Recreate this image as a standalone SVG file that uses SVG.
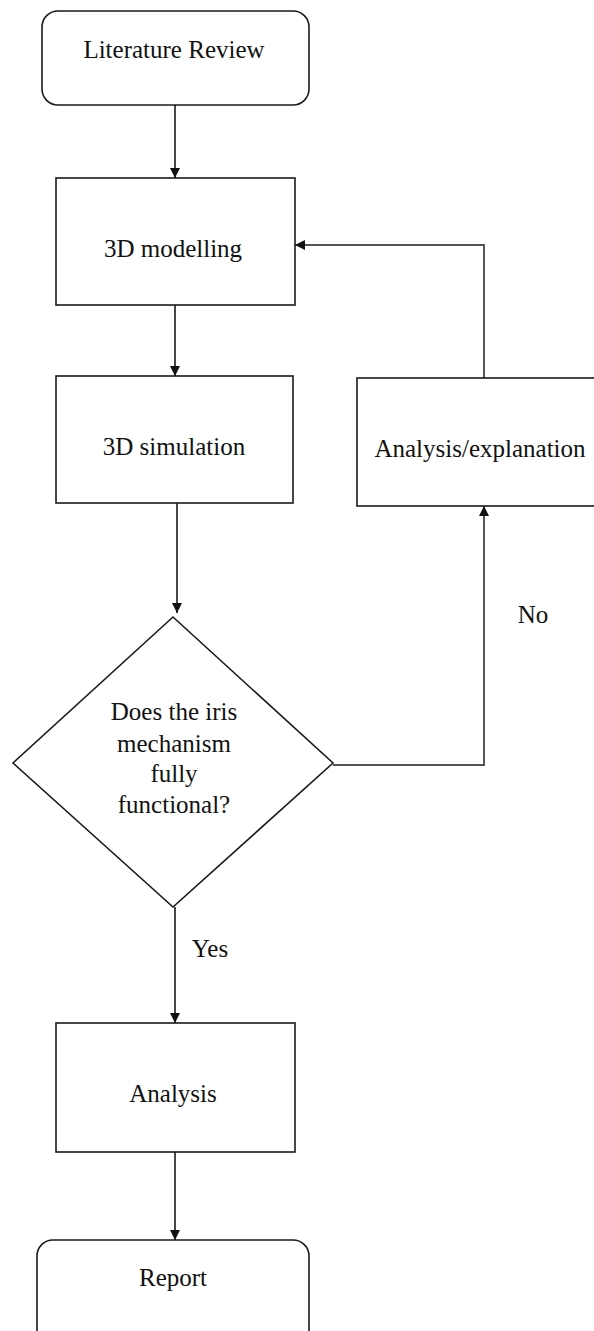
<svg xmlns="http://www.w3.org/2000/svg" width="594" height="1331" viewBox="0 0 594 1331">
<style>
.box{fill:#fff;stroke:#1a1a1a;stroke-width:1.6}
.t{font-family:"Liberation Serif","Times New Roman",serif;font-size:25px;fill:#111;text-anchor:middle}
.c{fill:none;stroke:#1a1a1a;stroke-width:1.6}
.g{fill:none;stroke:#555;stroke-width:2}
</style>
<defs>
<marker id="ah" viewBox="0 0 10 10" refX="10" refY="5" markerWidth="10" markerHeight="10" markerUnits="userSpaceOnUse" orient="auto">
<path d="M0,0 L10,5 L0,10 z" fill="#111"/>
</marker>
</defs>
<rect width="594" height="1331" fill="#fff"/>
<g id="connectors">
<line class="c" x1="175" y1="105" x2="175" y2="178" marker-end="url(#ah)"/>
<line class="c" x1="175" y1="305" x2="175" y2="376" marker-end="url(#ah)"/>
<line class="c" x1="177" y1="503" x2="177" y2="613" marker-end="url(#ah)"/>
<polyline class="g" points="333,765 484,765 484,506" marker-end="url(#ah)"/>
<polyline class="g" points="484,378 484,245 295,245" marker-end="url(#ah)"/>
<line class="c" x1="175" y1="907" x2="175" y2="1023" marker-end="url(#ah)"/>
<line class="c" x1="175" y1="1152" x2="175" y2="1240" marker-end="url(#ah)"/>
<text class="t" x="533" y="623">No</text>
<text class="t" x="210" y="957">Yes</text>
</g>
<g id="literature-review">
<rect class="box" x="42" y="11" width="267" height="94" rx="16"/>
<text class="t" x="174" y="58">Literature Review</text>
</g>
<g id="modelling">
<rect class="box" x="56" y="178" width="239" height="127"/>
<text class="t" x="173" y="257">3D modelling</text>
</g>
<g id="simulation">
<rect class="box" x="56" y="376" width="237" height="127"/>
<text class="t" x="174" y="455">3D simulation</text>
</g>
<g id="decision">
<polygon class="box" points="173,617 333,763 173,907 13,763"/>
<text class="t" x="174" y="720">Does the iris</text>
<text class="t" x="174" y="752">mechanism</text>
<text class="t" x="174" y="782">fully</text>
<text class="t" x="174" y="813">functional?</text>
</g>
<g id="explanation">
<rect class="box" x="357" y="378" width="250" height="128"/>
<text class="t" x="480" y="457">Analysis/explanation</text>
</g>
<g id="analysis">
<rect class="box" x="56" y="1023" width="239" height="129"/>
<text class="t" x="173" y="1102">Analysis</text>
</g>
<g id="report">
<rect class="box" x="37" y="1240" width="272" height="110" rx="16"/>
<text class="t" x="173" y="1286">Report</text>
</g>
</svg>
